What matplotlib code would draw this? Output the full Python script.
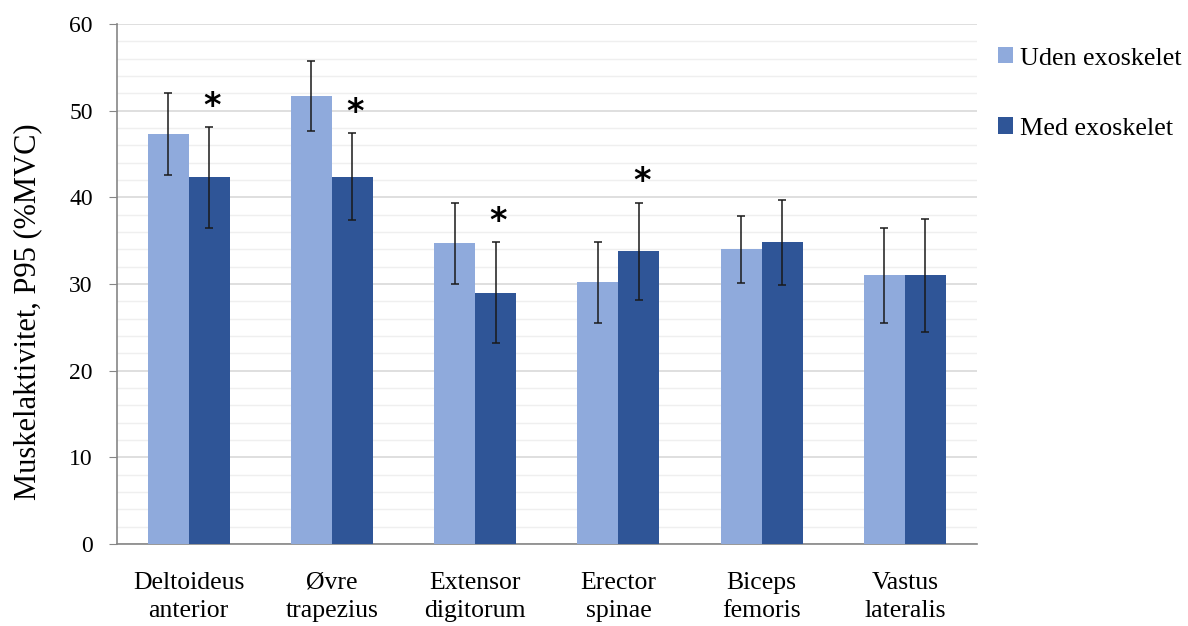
import matplotlib
matplotlib.use("Agg")
import matplotlib.pyplot as plt
import numpy as np

categories = ["Deltoideus\nanterior", "Øvre\ntrapezius", "Extensor\ndigitorum",
              "Erector\nspinae", "Biceps\nfemoris", "Vastus\nlateralis"]
uden_mean = [47.3, 51.7, 34.7, 30.2, 34.0, 31.0]
uden_sd = [4.7, 4.05, 4.7, 4.65, 3.85, 5.5]
med_mean = [42.3, 42.4, 29.0, 33.8, 34.8, 31.0]
med_sd = [5.8, 5.0, 5.8, 5.6, 4.9, 6.55]
significant = [True, True, True, True, False, False]
series_names = ["Uden exoskelet", "Med exoskelet"]

plt.rcParams['font.family'] = ['Liberation Serif', 'DejaVu Serif']

fig = plt.figure(figsize=(11.88, 6.26), dpi=100)
ax = fig.add_axes([0.0985, 0.131, 0.7235, 0.8307])

x = np.arange(len(categories))
w = 0.286
c_light = "#8faadc"
c_dark = "#2f5597"
ekw = dict(ecolor="#1a1a1a", elinewidth=1.1, capsize=3, capthick=1.1)

ax.bar(x - w/2, uden_mean, w, color=c_light, yerr=uden_sd, error_kw=ekw,
       label=series_names[0], zorder=3)
ax.bar(x + w/2, med_mean, w, color=c_dark, yerr=med_sd, error_kw=ekw,
       label=series_names[1], zorder=3)

for i, sig in enumerate(significant):
    if sig:
        ax.text(x[i] + w/2 + 0.02, med_mean[i] + med_sd[i] + 0.5, "*",
                ha="center", va="bottom", fontsize=24, fontweight="bold",
                family="DejaVu Sans", zorder=4)

ax.set_xlim(-0.5, len(categories) - 0.5)
ax.set_ylim(0, 60)
ax.set_yticks(np.arange(0, 61, 10))
ax.set_yticks(np.arange(0, 61, 2), minor=True)
ax.set_xticks(x)
ax.set_xticklabels(categories, fontsize=18.5, linespacing=1.37)
ax.tick_params(axis="x", length=0, pad=20)
ax.tick_params(axis="y", which="major", length=6, color="#868686", labelsize=17, pad=11.5)
ax.tick_params(axis="y", which="minor", length=0)
ax.grid(axis="y", which="major", color="#d9d9d9", linewidth=1.2, zorder=0)
ax.grid(axis="y", which="minor", color="#efefef", linewidth=1.0, zorder=0)
ax.set_axisbelow(True)
for s in ["top", "right"]:
    ax.spines[s].set_visible(False)
for s in ["left", "bottom"]:
    ax.spines[s].set_color("#868686")
    ax.spines[s].set_linewidth(1.2)

ax.set_ylabel("Muskelaktivitet, P95 (%MVC)", fontsize=22, va="center")
ax.yaxis.set_label_coords(-0.1035, 0.446)

leg = fig.legend(loc="upper left", bbox_to_anchor=(0.820, 0.962), frameon=False,
                 fontsize=18.8, handlelength=0.575, handleheight=0.575,
                 handletextpad=0.27, labelspacing=1.83)

fig.savefig("out.png", dpi=100)
